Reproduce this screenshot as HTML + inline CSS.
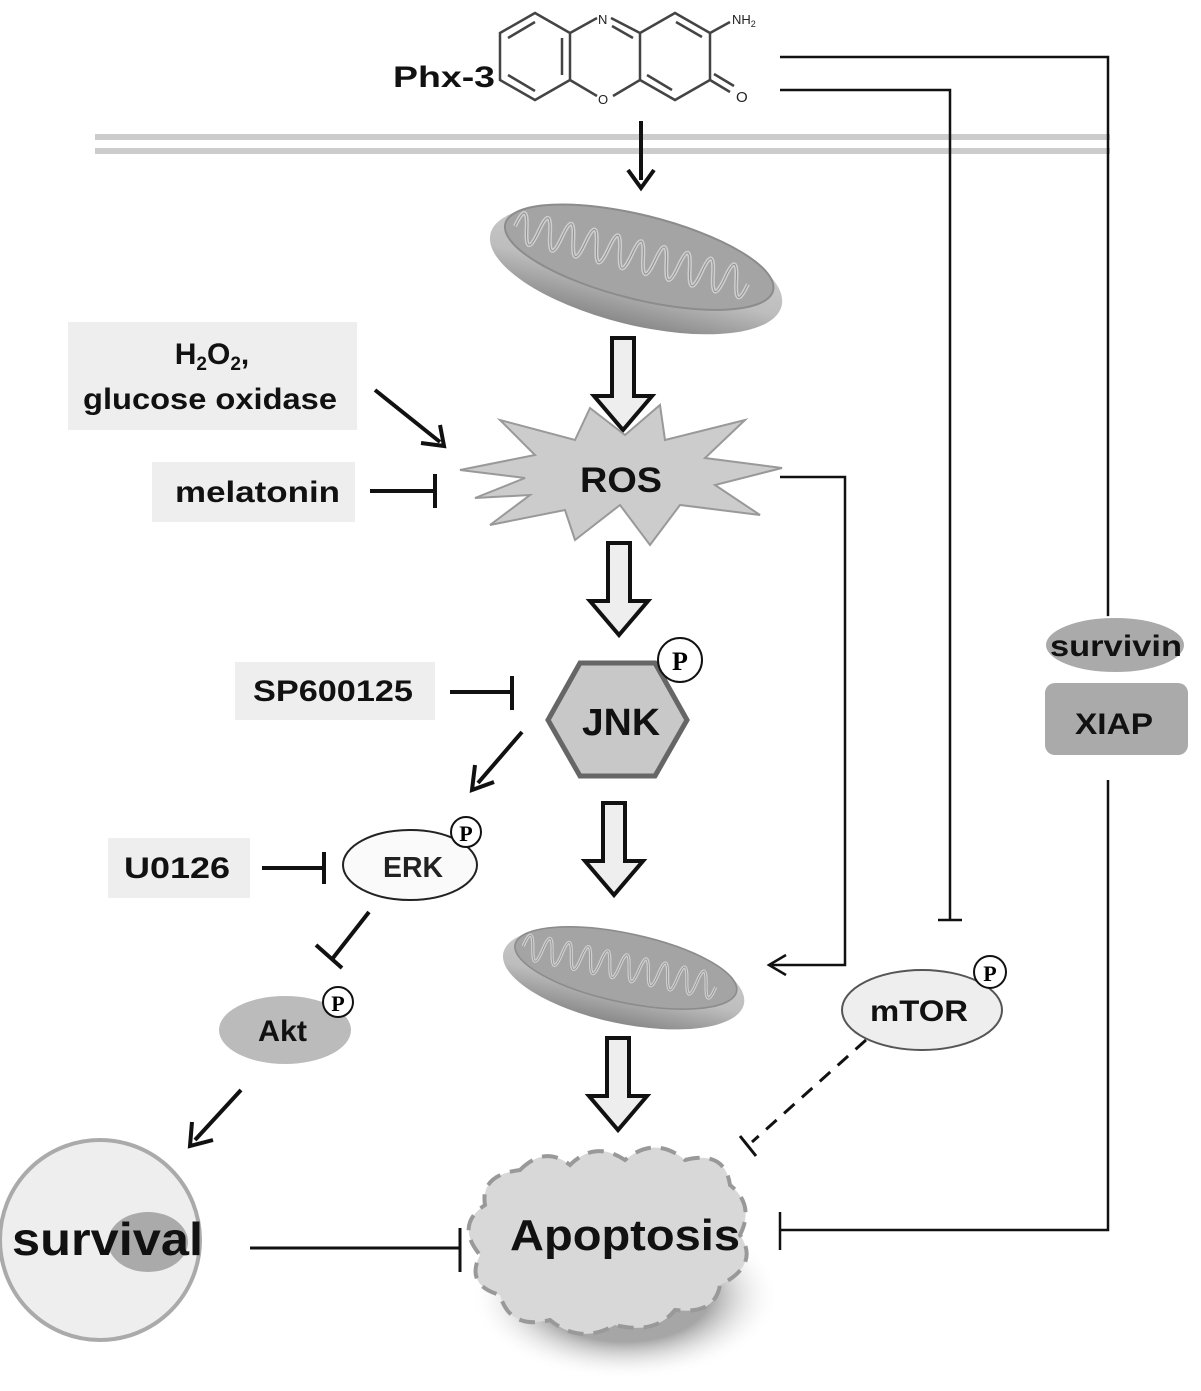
<!DOCTYPE html>
<html><head><meta charset="utf-8"><style>
html,body{margin:0;padding:0;background:#fff;}
svg{display:block;font-family:"Liberation Sans",sans-serif;}
.b{font-weight:bold;fill:#111;}
</style></head><body>
<svg width="1201" height="1391" viewBox="0 0 1201 1391" xmlns="http://www.w3.org/2000/svg">
<defs>
<radialGradient id="cl" cx="50%" cy="50%" r="50%"><stop offset="0.55" stop-color="#888"/><stop offset="1" stop-color="#fff" stop-opacity="0"/></radialGradient>
<linearGradient id="mito" x1="0" y1="0" x2="0" y2="1"><stop offset="0" stop-color="#d0d0d0"/><stop offset="0.6" stop-color="#bdbdbd"/><stop offset="1" stop-color="#8a8a8a"/></linearGradient>
<g id="mt">
<ellipse cx="0" cy="8" rx="150" ry="55" fill="url(#mito)"/>
<ellipse cx="0" cy="-5" rx="138" ry="42" fill="#a4a4a4" stroke="#8c8c8c" stroke-width="2"/>
<path d="M-128,-5 q6,-30 12,0 q6,30 12,0 q6,-32 12,0 q6,30 12,0 q6,-32 12,0 q6,30 12,0 q6,-32 12,0 q6,30 12,0 q6,-32 12,0 q6,30 12,0 q6,-32 12,0 q6,30 12,0 q6,-32 12,0 q6,30 12,0 q6,-32 12,0 q6,30 12,0 q6,-32 12,0 q6,30 12,0 q6,-32 12,0 q6,30 12,0" fill="none" stroke="#cfcfcf" stroke-width="4"/>
<path d="M-128,-5 q6,-30 12,0 q6,30 12,0 q6,-32 12,0 q6,30 12,0 q6,-32 12,0 q6,30 12,0 q6,-32 12,0 q6,30 12,0 q6,-32 12,0 q6,30 12,0 q6,-32 12,0 q6,30 12,0 q6,-32 12,0 q6,30 12,0 q6,-32 12,0 q6,30 12,0 q6,-32 12,0 q6,30 12,0 q6,-32 12,0 q6,30 12,0" fill="none" stroke="#8e8e8e" stroke-width="1"/>
</g>
</defs>

<!-- Phx-3 -->
<text x="393" y="87" class="b" font-size="30" textLength="102" lengthAdjust="spacingAndGlyphs">Phx-3</text>
<g fill="none" stroke="#444" stroke-width="2.5">
<polygon points="500,33 535,13 570,33 570,80 535,100 500,80"/>
<line x1="508" y1="38" x2="535" y2="22"/><line x1="508" y1="75" x2="535" y2="91"/><line x1="562" y1="38" x2="562" y2="75"/>
<polyline points="570,33 597,18"/><polyline points="611,18 640,33 640,80 613,96"/><polyline points="597,96 570,80"/>
<line x1="612" y1="26" x2="633" y2="38"/>
<polyline points="640,33 675,13 710,33 710,80 675,100 640,80"/>
<line x1="647" y1="75" x2="672" y2="90"/><line x1="676" y1="22" x2="702" y2="37"/>
<line x1="710" y1="33" x2="730" y2="22"/>
<line x1="710" y1="80" x2="730" y2="92"/><line x1="714" y1="74" x2="734" y2="86"/>
</g>
<text x="598" y="24" font-size="13" fill="#222">N</text>
<text x="598" y="104" font-size="13" fill="#222">O</text>
<text x="732" y="24" font-size="13" fill="#222">NH<tspan font-size="9" dy="3">2</tspan></text>
<text x="736" y="102" font-size="15" fill="#222">O</text>

<!-- membrane -->
<line x1="95" y1="137" x2="1110" y2="137" stroke="#ccc" stroke-width="6"/>
<line x1="95" y1="151" x2="1110" y2="151" stroke="#ccc" stroke-width="6"/>
<line x1="641" y1="121" x2="641" y2="180" stroke="#111" stroke-width="4"/>
<path d="M628,170 L641,188 L654,170" fill="none" stroke="#111" stroke-width="4"/>

<!-- mito 1 -->
<g transform="translate(638,262) rotate(14)"><use href="#mt"/></g>

<!-- hollow arrows -->
<g fill="#eee" stroke="#111" stroke-width="4">
<path d="M612,338 h22 v58 h18 l-29,34 l-29,-34 h18 z"/>
<path d="M608,543 h22 v58 h18 l-29,34 l-29,-34 h18 z"/>
<path d="M603,803 h22 v58 h18 l-29,34 l-29,-34 h18 z"/>
<path d="M607,1038 h22 v58 h18 l-29,34 l-29,-34 h18 z"/>
</g>

<!-- H2O2 box -->
<rect x="68" y="322" width="289" height="108" fill="#eee"/>
<text x="212" y="364" class="b" font-size="30" text-anchor="middle">H<tspan font-size="19" dy="6">2</tspan><tspan dy="-6">O</tspan><tspan font-size="19" dy="6">2</tspan><tspan dy="-6">,</tspan></text>
<text x="83" y="409" class="b" font-size="30" textLength="254" lengthAdjust="spacingAndGlyphs">glucose oxidase</text>
<line x1="375" y1="390" x2="440" y2="442" stroke="#111" stroke-width="4"/>
<path d="M421,443 L444,446 L440,425" fill="none" stroke="#111" stroke-width="4"/>

<!-- melatonin -->
<rect x="152" y="462" width="203" height="60" fill="#eee"/>
<text x="175" y="502" class="b" font-size="30" textLength="165" lengthAdjust="spacingAndGlyphs">melatonin</text>
<line x1="370" y1="491" x2="435" y2="491" stroke="#111" stroke-width="4"/>
<line x1="435" y1="474" x2="435" y2="508" stroke="#111" stroke-width="4"/>

<!-- ROS -->
<polygon points="460,470 535,455 500,420 575,440 590,408 625,435 660,405 665,440 745,420 705,458 782,468 715,485 760,515 680,505 650,545 620,505 575,540 565,510 490,525 530,495 475,498 525,478" fill="#ccc" stroke="#999" stroke-width="2"/>
<text x="580" y="492" class="b" font-size="35" textLength="82" lengthAdjust="spacingAndGlyphs">ROS</text>

<!-- JNK -->
<rect x="235" y="662" width="200" height="58" fill="#eee"/>
<text x="253" y="701" class="b" font-size="30" textLength="160" lengthAdjust="spacingAndGlyphs">SP600125</text>
<line x1="450" y1="692" x2="512" y2="692" stroke="#111" stroke-width="4"/>
<line x1="512" y1="676" x2="512" y2="710" stroke="#111" stroke-width="4"/>
<polygon points="548,720 580,663 655,663 687,720 655,776 580,776" fill="#c8c8c8" stroke="#666" stroke-width="5"/>
<text x="582" y="735" class="b" font-size="38" textLength="78" lengthAdjust="spacingAndGlyphs" fill="#222">JNK</text>
<circle cx="680" cy="660" r="22" fill="#fff" stroke="#111" stroke-width="2"/>
<text x="680" y="670" font-family="Liberation Serif,serif" font-weight="bold" font-size="26" text-anchor="middle">P</text>

<line x1="522" y1="732" x2="478" y2="783" stroke="#111" stroke-width="4"/>
<path d="M475,765 L472,790 L494,782" fill="none" stroke="#111" stroke-width="4"/>

<!-- ERK -->
<rect x="108" y="838" width="142" height="60" fill="#eee"/>
<text x="124" y="878" class="b" font-size="30" textLength="106" lengthAdjust="spacingAndGlyphs">U0126</text>
<line x1="262" y1="868" x2="324" y2="868" stroke="#111" stroke-width="4"/>
<line x1="324" y1="852" x2="324" y2="884" stroke="#111" stroke-width="4"/>
<ellipse cx="410" cy="865" rx="67" ry="35" fill="#fafafa" stroke="#222" stroke-width="2"/>
<text x="383" y="877" font-size="29" textLength="60" lengthAdjust="spacingAndGlyphs" fill="#222" font-weight="bold">ERK</text>
<circle cx="466" cy="832" r="15" fill="#fff" stroke="#111" stroke-width="2"/>
<text x="466" y="841" font-family="Liberation Serif,serif" font-weight="bold" font-size="22" text-anchor="middle">P</text>
<line x1="369" y1="912" x2="333" y2="958" stroke="#111" stroke-width="4"/>
<line x1="316" y1="945" x2="342" y2="968" stroke="#111" stroke-width="4"/>

<!-- Akt -->
<ellipse cx="285" cy="1030" rx="66" ry="34" fill="#bbb"/>
<text x="258" y="1041" class="b" font-size="30" textLength="49" lengthAdjust="spacingAndGlyphs">Akt</text>
<circle cx="338" cy="1002" r="15" fill="#fff" stroke="#111" stroke-width="2"/>
<text x="338" y="1011" font-family="Liberation Serif,serif" font-weight="bold" font-size="22" text-anchor="middle">P</text>
<line x1="241" y1="1090" x2="195" y2="1140" stroke="#111" stroke-width="4"/>
<path d="M192,1122 L190,1146 L213,1140" fill="none" stroke="#111" stroke-width="4"/>

<!-- survival -->
<circle cx="100" cy="1240" r="100" fill="#eee" stroke="#aaa" stroke-width="4"/>
<ellipse cx="148" cy="1242" rx="40" ry="30" fill="#aaa"/>
<text x="12" y="1255" class="b" font-size="46" textLength="191" lengthAdjust="spacingAndGlyphs">survival</text>
<line x1="250" y1="1248" x2="460" y2="1248" stroke="#111" stroke-width="3"/>
<line x1="460" y1="1228" x2="460" y2="1272" stroke="#111" stroke-width="3"/>

<!-- mito 2 -->
<g transform="translate(625,972) rotate(12) scale(0.82)"><use href="#mt"/></g>

<!-- Apoptosis -->
<ellipse cx="625" cy="1295" rx="155" ry="85" fill="url(#cl)" opacity="0.75"/>
<path d="M520,1170 q25,-25 50,-5 q25,-25 55,-5 q30,-25 60,0 q40,-10 45,25 q25,20 10,50 q20,30 -20,50 q-5,30 -45,25 q-20,25 -60,15 q-35,20 -65,-5 q-40,10 -50,-25 q-35,-10 -20,-40 q-25,-30 5,-50 q-5,-30 35,-35z" fill="#d8d8d8" stroke="#999" stroke-width="4" stroke-dasharray="16,10"/>
<text x="510" y="1250" class="b" font-size="44" textLength="230" lengthAdjust="spacingAndGlyphs">Apoptosis</text>

<!-- right connectors -->
<g fill="none" stroke="#111" stroke-width="2.5">
<polyline points="780,477 845,477 845,965 772,965"/>
<polyline points="780,90 950,90 950,920"/>
<line x1="938" y1="920" x2="962" y2="920"/>
<polyline points="780,57 1108,57 1108,625"/>
<line x1="1096" y1="625" x2="1120" y2="625"/>
<polyline points="1108,780 1108,1230 780,1230"/>
<line x1="780" y1="1212" x2="780" y2="1250"/>
<line x1="866" y1="1040" x2="752" y2="1142" stroke-dasharray="14,10" stroke-width="3"/>
<line x1="740" y1="1136" x2="756" y2="1156" stroke-width="3"/>
</g>
<path d="M786,955 L769,965 L786,975" fill="none" stroke="#111" stroke-width="2.5"/>

<!-- mTOR -->
<ellipse cx="922" cy="1010" rx="80" ry="40" fill="#eee" stroke="#555" stroke-width="2"/>
<text x="870" y="1021" class="b" font-size="30" textLength="98" lengthAdjust="spacingAndGlyphs">mTOR</text>
<circle cx="990" cy="972" r="16" fill="#fff" stroke="#111" stroke-width="2"/>
<text x="990" y="981" font-family="Liberation Serif,serif" font-weight="bold" font-size="22" text-anchor="middle">P</text>

<!-- survivin XIAP -->
<rect x="1045" y="683" width="143" height="72" rx="10" fill="#aaa"/>
<ellipse cx="1115" cy="645" rx="70" ry="28" fill="#aaa" stroke="#fff" stroke-width="2"/>
<text x="1050" y="656" class="b" font-size="30" textLength="132" lengthAdjust="spacingAndGlyphs">survivin</text>
<text x="1075" y="734" class="b" font-size="30" textLength="78" lengthAdjust="spacingAndGlyphs">XIAP</text>
</svg>
</body></html>
